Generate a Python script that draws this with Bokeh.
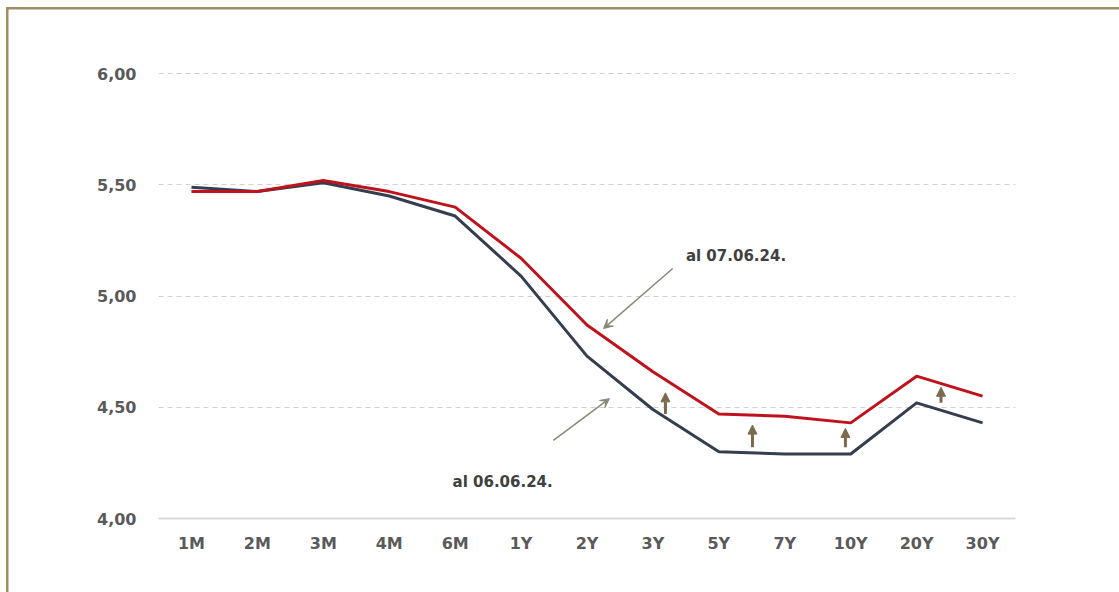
from bokeh.plotting import figure
from bokeh.models import (FactorRange, Range1d, FixedTicker, Arrow, NormalHead, VeeHead, Label)
from bokeh.embed import file_html
from bokeh.resources import INLINE

# ---- data ----
tenors = ["1M", "2M", "3M", "4M", "6M", "1Y", "2Y", "3Y", "5Y", "7Y", "10Y", "20Y", "30Y"]
curve_0706 = [5.47, 5.47, 5.52, 5.47, 5.40, 5.17, 4.87, 4.66, 4.47, 4.46, 4.43, 4.64, 4.55]
curve_0606 = [5.49, 5.47, 5.51, 5.45, 5.36, 5.09, 4.73, 4.49, 4.30, 4.29, 4.29, 4.52, 4.43]
y_ticks = [4.0, 4.5, 5.0, 5.5, 6.0]
y_tick_labels = ["4,00", "4,50", "5,00", "5,50", "6,00"]
label_0706 = "al 07.06.24."
label_0606 = "al 06.06.24."

# annotation positions (synthetic categorical x, data y)
shift_arrow_x = [7.69, 9.01, 10.42, 11.87]
shift_arrow_y0 = [4.47, 4.32, 4.32, 4.52]
shift_arrow_y1 = [4.565, 4.42, 4.405, 4.59]

RED = "#c0121c"
DARK = "#343e4f"
TXT = "#5a5a5a"
FONT = "DejaVu Sans"
FRAME = "#9c9062"

p = figure(width=1119, height=592, x_range=FactorRange(*tenors, range_padding=0),
           y_range=Range1d(4.0, 6.01), output_backend="svg", toolbar_location=None,
           min_border_left=158, min_border_right=104, min_border_top=71, min_border_bottom=74,
           background_fill_color="white", border_fill_color=None)
p.outline_line_color = None
p.styles = {
    "background-color": "white",
    "background-image": f"linear-gradient({FRAME},{FRAME}), linear-gradient({FRAME},{FRAME})",
    "background-size": "100% 2.5px, 2.5px 100%",
    "background-position": "7px 7px, 6px 7px",
    "background-repeat": "no-repeat",
}

p.line(tenors, curve_0606, line_color=DARK, line_width=3, line_join="round")
p.line(tenors, curve_0706, line_color=RED, line_width=3, line_join="round")

# axes
p.yaxis.ticker = FixedTicker(ticks=y_ticks)
p.yaxis.major_label_overrides = {t: l for t, l in zip(y_ticks, y_tick_labels)}
p.yaxis.axis_line_color = None
p.yaxis.major_tick_line_color = None
p.yaxis.minor_tick_line_color = None
p.yaxis.major_label_standoff = 16
p.yaxis.major_label_text_font = FONT
p.yaxis.major_label_text_font_style = "bold"
p.yaxis.major_label_text_font_size = "16px"
p.yaxis.major_label_text_color = TXT

p.xaxis.axis_line_color = "#d9d9d9"
p.xaxis.axis_line_width = 2
p.xaxis.major_tick_line_color = None
p.xaxis.minor_tick_line_color = None
p.xaxis.major_label_standoff = 9
p.xaxis.major_label_text_font = FONT
p.xaxis.major_label_text_font_style = "bold"
p.xaxis.major_label_text_font_size = "16px"
p.xaxis.major_label_text_color = TXT

p.xgrid.grid_line_color = None
p.ygrid.grid_line_color = "#d0d0d0"
p.ygrid.grid_line_dash = "5 4"
p.ygrid.grid_line_width = 1

# callout arrows
p.add_layout(Arrow(x_start=7.80, y_start=5.124, x_end=6.75, y_end=4.854,
                   line_color="#8c857a", line_width=1.5,
                   end=VeeHead(size=9, line_color="#8c857a", fill_color="#8c857a", line_width=1)))
p.add_layout(Arrow(x_start=5.99, y_start=4.351, x_end=6.84, y_end=4.539,
                   line_color="#8c857a", line_width=1.5,
                   end=VeeHead(size=9, line_color="#8c857a", fill_color="#8c857a", line_width=1)))
p.add_layout(Label(x=8.0, y=5.182, text=label_0706, text_font=FONT, text_font_style="bold",
                   text_font_size="15px", text_color="#404040", text_baseline="middle"))
p.add_layout(Label(x=4.46, y=4.166, text=label_0606, text_font=FONT, text_font_style="bold",
                   text_font_size="15px", text_color="#404040", text_baseline="middle"))

# upward shift arrows
for xa, ya0, ya1 in zip(shift_arrow_x, shift_arrow_y0, shift_arrow_y1):
    p.add_layout(Arrow(x_start=xa, y_start=ya0, x_end=xa, y_end=ya1,
                       line_color="#7b6b4c", line_width=3,
                       end=NormalHead(size=9, line_color="#7b6b4c", fill_color="#7b6b4c")))

open("out.html", "w").write(file_html(p, INLINE))
